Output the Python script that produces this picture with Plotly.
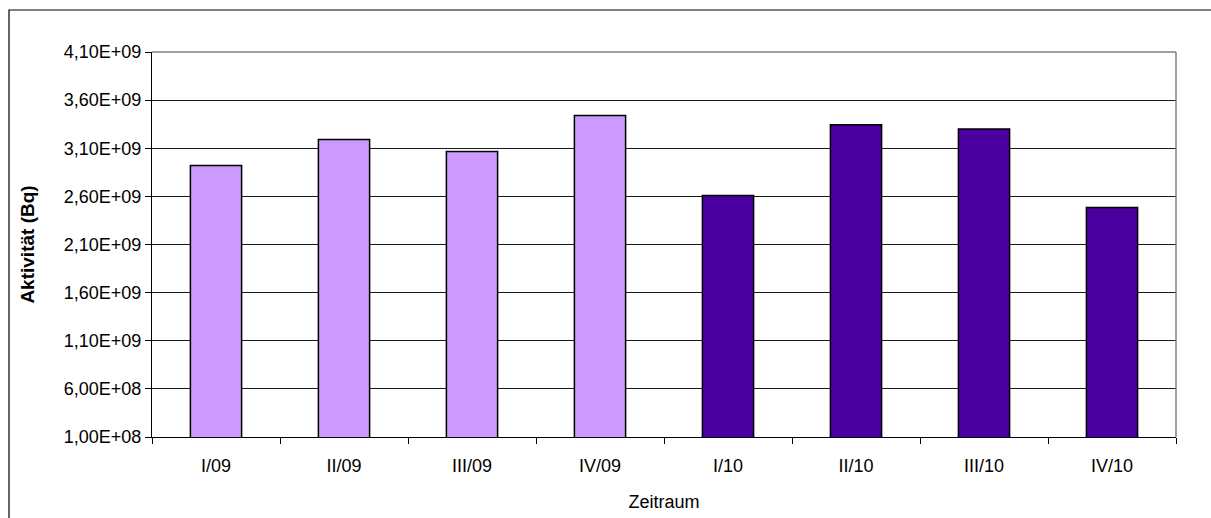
import plotly.graph_objects as go

# Quarterly activity values
quarters = ["I/09", "II/09", "III/09", "IV/09", "I/10", "II/10", "III/10", "IV/10"]
activity_bq = [2.92e9, 3.19e9, 3.065e9, 3.44e9, 2.61e9, 3.345e9, 3.30e9, 2.485e9]
bar_colors = ["#CC99FF"] * 4 + ["#4A00A0"] * 4

# Y axis ticks, written in German decimal notation
y_tickvals = [1.0e8, 6.0e8, 1.1e9, 1.6e9, 2.1e9, 2.6e9, 3.1e9, 3.6e9, 4.1e9]
y_ticktext = ["1,00E+08", "6,00E+08", "1,10E+09", "1,60E+09", "2,10E+09",
              "2,60E+09", "3,10E+09", "3,60E+09", "4,10E+09"]

FONT = "Liberation Sans, Arial, sans-serif"

fig = go.Figure(
    go.Bar(
        x=quarters,
        y=activity_bq,
        base=0,
        width=0.4,
        marker=dict(color=bar_colors, line=dict(color="black", width=1.5)),
        hoverinfo="x+y",
    )
)

fig.update_layout(
    width=1211,
    height=518,
    margin=dict(l=152, r=35, t=52, b=81),
    paper_bgcolor="white",
    plot_bgcolor="white",
    showlegend=False,
    font=dict(family=FONT, size=18, color="black"),
)

fig.update_xaxes(
    type="category",
    range=[-0.5, 7.5],
    automargin=False,
    showline=True,
    linecolor="black",
    linewidth=1,
    ticks="outside",
    tickson="boundaries",
    ticklen=6,
    tickcolor="black",
    tickfont=dict(family=FONT, size=18),
    ticklabelstandoff=12,
    showgrid=False,
    title=dict(text="Zeitraum", font=dict(family=FONT, size=18), standoff=20),
)

fig.update_yaxes(
    range=[1.0e8, 4.1e9],
    automargin=False,
    tickvals=y_tickvals,
    ticktext=y_ticktext,
    showline=True,
    linecolor="black",
    linewidth=1,
    ticks="outside",
    ticklen=6,
    tickcolor="black",
    tickfont=dict(family=FONT, size=18),
    showgrid=True,
    gridcolor="#1a1a1a",
    gridwidth=1,
    zeroline=False,
    title=dict(text="<b>Aktivität (Bq)</b>", font=dict(family=FONT, size=19), standoff=24),
)

# Grey plot-area frame on the top and right edges
fig.add_shape(type="line", xref="paper", yref="paper", x0=0, x1=1, y0=1, y1=1,
              line=dict(color="#808080", width=1.5), layer="above")
fig.add_shape(type="line", xref="paper", yref="paper", x0=1, x1=1, y0=0, y1=1,
              line=dict(color="#808080", width=1.5), layer="above")

# Outer chart frame
fig.add_shape(type="rect", xref="paper", yref="paper",
              x0=(9 - 152) / 1024, x1=(1240 - 152) / 1024,
              y0=(437 - 540) / 385, y1=(437 - 10) / 385,
              line=dict(color="black", width=1.2), fillcolor="rgba(0,0,0,0)",
              layer="below")

fig.write_html("out.html")
